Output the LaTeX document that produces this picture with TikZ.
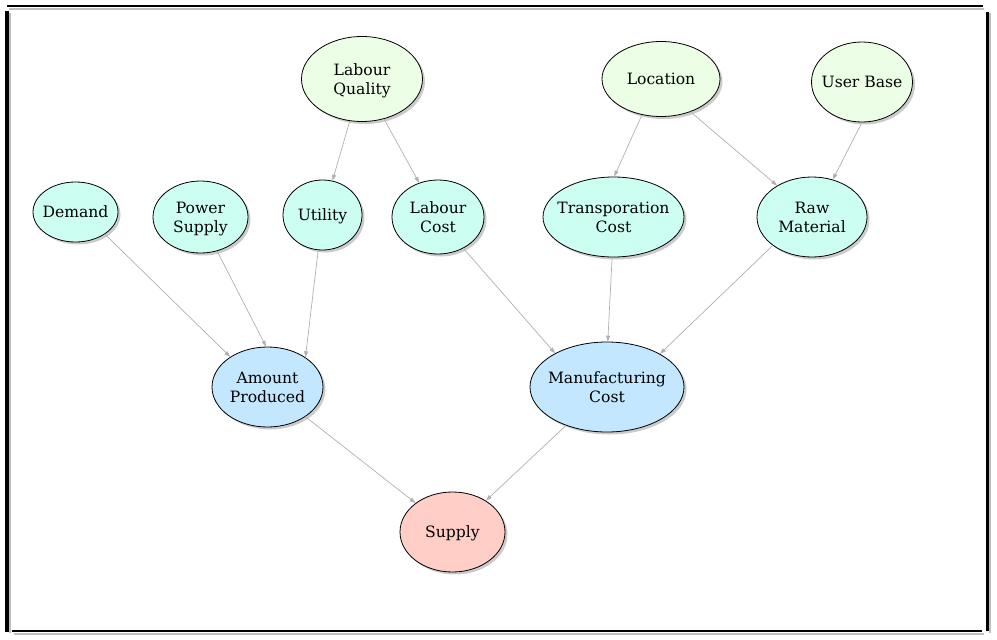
\documentclass[tikz,border=0pt]{standalone}
\usepackage{fontspec}
\setmainfont{DejaVu Serif}
\usetikzlibrary{shapes.geometric,shadows,arrows.meta}
\definecolor{topgreen}{RGB}{236,254,230}
\definecolor{midcyan}{RGB}{204,255,242}
\definecolor{lowblue}{RGB}{194,231,255}
\definecolor{supred}{RGB}{255,206,198}
\definecolor{edgegray}{RGB}{176,176,176}
\definecolor{shadegray}{RGB}{190,190,190}
\tikzset{
  every node/.style={font=\fontsize{15.6}{19}\selectfont},
  factor/.style={ellipse, draw=black, line width=0.8pt, inner sep=-20pt, align=center, text depth=0pt,
    drop shadow={shadow xshift=2.5pt, shadow yshift=-2.5pt, fill=shadegray, opacity=0.8}},
  greenf/.style={factor, fill=topgreen},
  cyanf/.style={factor, fill=midcyan},
  bluef/.style={factor, fill=lowblue},
  redf/.style={factor, fill=supred},
  link/.style={draw=edgegray, line width=0.7pt, -{Triangle[length=6pt,width=4pt]}},
  frameline/.style={line width=#1, draw=black, line cap=butt},
  frameshade/.style={line width=#1, draw=shadegray, line cap=butt}
}
\begin{document}
\begin{tikzpicture}[x=1pt,y=-1pt]
\useasboundingbox (0,0) rectangle (997,640);
% frame
\draw[frameshade=2pt] (9,8.5) -- (984,8.5);
\draw[frameline=2pt] (7,6) -- (982.5,6);
\draw[frameshade=2pt] (10,13) -- (10,633);
\draw[frameline=3.8pt] (7,11) -- (7,631.8);
\draw[frameshade=2pt] (990,13) -- (990,633);
\draw[frameline=3.5pt] (987.3,11.5) -- (987.3,631);
\draw[frameshade=2pt] (14,633.5) -- (984,633.5);
\draw[frameline=2pt] (11.7,631.2) -- (981.7,631.2);
% nodes
\node[greenf, minimum width=121pt, minimum height=85pt] (lq) at (362,79) {Labour\\Quality};
\node[greenf, minimum width=118pt, minimum height=75pt] (loc) at (661,79) {Location};
\node[greenf, minimum width=101pt, minimum height=80pt] (ub) at (862,82) {User Base};
\node[cyanf, minimum width=85pt, minimum height=60pt] (dem) at (75.5,212) {Demand};
\node[cyanf, minimum width=95pt, minimum height=72pt] (ps) at (200.5,217) {Power\\Supply};
\node[cyanf, minimum width=79pt, minimum height=70pt] (ut) at (322.5,215) {Utility};
\node[cyanf, minimum width=92pt, minimum height=74pt] (lc) at (438,217) {Labour\\Cost};
\node[cyanf, minimum width=141pt, minimum height=80pt] (tc) at (613.5,217) {Transporation\\Cost};
\node[cyanf, minimum width=110pt, minimum height=80pt] (rm) at (812,217) {Raw\\Material};
\node[bluef, minimum width=111pt, minimum height=80pt] (ap) at (267.5,387) {Amount\\Produced};
\node[bluef, minimum width=154pt, minimum height=90pt] (mc) at (607,387) {Manufacturing\\Cost};
\node[redf, minimum width=105pt, minimum height=80pt] (sup) at (452.5,532) {Supply};
% edges
\draw[link] (lq) -- (ut);
\draw[link] (lq) -- (lc);
\draw[link] (loc.242.7) -- (tc.89);
\draw[link] (loc.312.4) -- (rm.138);
\draw[link] (ub.270) -- (rm.61.8);
\draw[link] (dem.323.6) -- (ap.141.9);
\draw[link] (ps.296.6) -- (ap.92);
\draw[link] (ut.263) -- (ap.38);
\draw[link] (lc.309.3) -- (mc.147.5);
\draw[link] (tc.268) -- (mc.89);
\draw[link] (rm.216) -- (mc.32.5);
\draw[link] (ap) -- (sup);
\draw[link] (mc) -- (sup);
\end{tikzpicture}
\end{document}
